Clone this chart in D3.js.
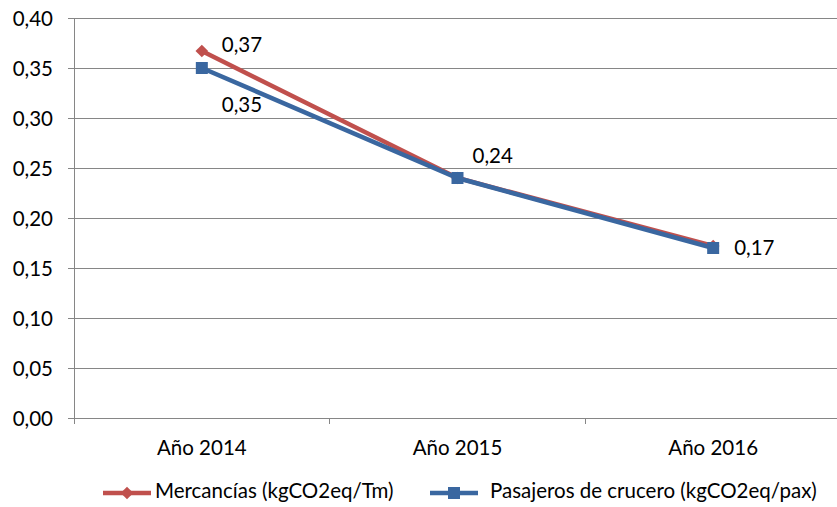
<!DOCTYPE html>
<html><head><meta charset="utf-8">
<script src="https://cdn.jsdelivr.net/npm/d3@7"></script>
<style>body{margin:0;background:#fff}svg{display:block}text{font-family:Lato,"Open Sans",sans-serif;fill:#000}</style>
</head><body><svg id="c" width="837" height="507"></svg>
<script>
const categories = ["Año 2014", "Año 2015", "Año 2016"];
const mercancias = [0.367, 0.24, 0.172];
const pasajeros = [0.35, 0.24, 0.17];
const mercLabels = ["0,37", "0,24", ""];
const pasLabels = ["0,35", "", "0,17"];
const yTicks = [0, 0.05, 0.10, 0.15, 0.20, 0.25, 0.30, 0.35, 0.40];
const seriesNames = ["Mercancías (kgCO2eq/Tm)", "Pasajeros de crucero (kgCO2eq/pax)"];

(function () {
const svg = d3.select("#c");
const pLeft = 74, pRight = 841, pTop = 18, pBottom = 418;
const FS = "20.5px";
const x = d3.scaleBand().domain(categories).range([pLeft, pRight]);
const y = d3.scaleLinear().domain([0, 0.4]).range([pBottom, pTop]);
const fmt = v => v.toFixed(2).replace(".", ",");
const red = "#C0504D", blue = "#3A67A0", grid = "#868686";
const sq = 12;

svg.append("g").selectAll("line").data(yTicks.filter(d => d > 0)).join("line")
  .attr("x1", pLeft).attr("x2", pRight).attr("y1", d => y(d)).attr("y2", d => y(d))
  .attr("stroke", grid).attr("stroke-width", 1).attr("shape-rendering", "crispEdges");

const ya = svg.append("g").attr("transform", `translate(${pLeft},0)`)
  .call(d3.axisLeft(y).tickValues(yTicks).tickFormat(fmt).tickSize(6).tickPadding(15));
ya.select(".domain").attr("stroke", grid).attr("shape-rendering", "crispEdges");
ya.selectAll(".tick line").attr("stroke", grid).attr("shape-rendering", "crispEdges");
ya.selectAll("text").style("font-size", FS).attr("fill", "#000").attr("dy", "0.35em");

const xa = svg.append("g").attr("transform", `translate(0,${pBottom})`)
  .call(d3.axisBottom(x).tickSize(0));
xa.select(".domain").attr("stroke", grid).attr("shape-rendering", "crispEdges");
xa.selectAll("text").style("font-size", FS).attr("fill", "#000").attr("y", 37).attr("dy", 0);
const bounds = [0, 1, 2, 3].map(i => pLeft + i * x.step());
xa.selectAll(".bt").data(bounds).join("line").attr("class", "bt")
  .attr("x1", d => d).attr("x2", d => d).attr("y1", 0).attr("y2", 6)
  .attr("stroke", grid).attr("shape-rendering", "crispEdges");

const cx = c => x(c) + x.bandwidth() / 2;
const line = d3.line().x(d => cx(d.c)).y(d => y(d.v));
const mData = categories.map((c, i) => ({c, v: mercancias[i]}));
const pData = categories.map((c, i) => ({c, v: pasajeros[i]}));

svg.append("path").datum(mData).attr("d", line).attr("fill", "none").attr("stroke", red).attr("stroke-width", 4.5);
svg.append("path").datum(pData).attr("d", line).attr("fill", "none").attr("stroke", blue).attr("stroke-width", 4.5);

svg.append("g").selectAll("path").data(mData).join("path")
  .attr("d", d3.symbol().type(d3.symbolSquare).size(80))
  .attr("transform", d => `translate(${cx(d.c)},${y(d.v)}) rotate(45)`).attr("fill", red);
svg.append("g").selectAll("rect").data(pData).join("rect")
  .attr("x", d => cx(d.c) - sq / 2).attr("y", d => y(d.v) - sq / 2).attr("width", sq).attr("height", sq).attr("fill", blue);

const mOff = [[20, 1], [15, -15], [0, 0]];
const pOff = [[20, 44], [0, 0], [21, 7]];
svg.append("g").selectAll("text").data(mData).join("text")
  .attr("x", (d, i) => cx(d.c) + mOff[i][0]).attr("y", (d, i) => y(d.v) + mOff[i][1])
  .style("font-size", FS).text((d, i) => mercLabels[i]);
svg.append("g").selectAll("text").data(pData).join("text")
  .attr("x", (d, i) => cx(d.c) + pOff[i][0]).attr("y", (d, i) => y(d.v) + pOff[i][1])
  .style("font-size", FS).text((d, i) => pasLabels[i]);

const lg = svg.append("g");
const ly = 493;
const items = [{x0: 103, tx: 155, color: red, name: seriesNames[0], shape: "d"},
               {x0: 430, tx: 490, color: blue, name: seriesNames[1], shape: "s"}];
items.forEach(it => {
  lg.append("line").attr("x1", it.x0).attr("x2", it.x0 + 48).attr("y1", ly).attr("y2", ly)
    .attr("stroke", it.color).attr("stroke-width", 4.5);
  if (it.shape === "d") {
    lg.append("path").attr("d", d3.symbol().type(d3.symbolSquare).size(80))
      .attr("transform", `translate(${it.x0 + 24},${ly}) rotate(45)`).attr("fill", it.color);
  } else {
    lg.append("rect").attr("x", it.x0 + 24 - sq / 2).attr("y", ly - sq / 2).attr("width", sq).attr("height", sq).attr("fill", it.color);
  }
  lg.append("text").attr("x", it.tx).attr("y", ly + 5).style("font-size", FS).text(it.name);
});
})();
</script></body></html>
